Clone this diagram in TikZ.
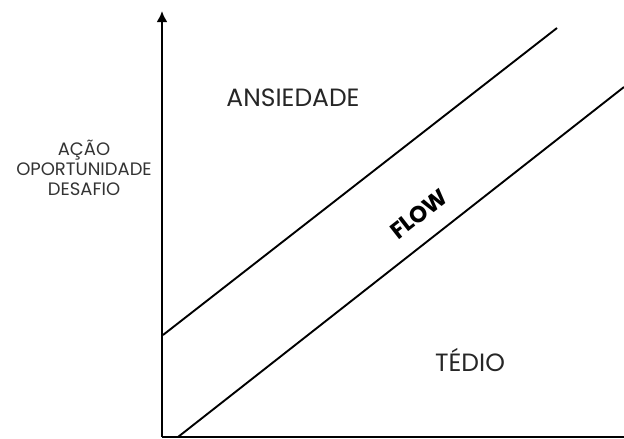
\documentclass[tikz,border=0pt]{standalone}
\usepackage{fontspec}
\setmainfont{Poppins}
\usetikzlibrary{calc, positioning, arrows.meta}

\begin{document}
\begin{tikzpicture}[>={Latex[length=11pt,width=11pt]}, x=1pt, y=-1pt]
    \useasboundingbox (0,0) rectangle (624,439);
    % Eixos
    \coordinate (O) at (162,437);
    \coordinate (topo) at (162,11);
    \coordinate (fim) at (624,437);
    \draw[line width=2.6pt, ->] (O) -- (topo);
    \draw[line width=2.6pt] (O) -- (fim);
    
    % Faixa do flow
    \coordinate (a1) at (163,335);
    \coordinate (a2) at (557,28);
    \coordinate (b1) at (178,437);
    \coordinate (b2) at (624,87);
    \draw[line width=1.9pt] (a1) -- (a2);
    \draw[line width=1.9pt] (b1) -- (b2);
    
    % Rotulos
    \node[text=black!85, font=\fontsize{25}{30}\selectfont] (ansiedade) at (293,98) {ANSIEDADE};
    \node[text=black!85, font=\fontsize{25}{30}\selectfont] (tedio) at (470,360) {TÉDIO};
    \node[text=black!80, align=center, font=\fontsize{18}{20}\selectfont] (eixo) at (84,168) {AÇÃO\\OPORTUNIDADE\\DESAFIO};
    \node[rotate=38, font=\bfseries\fontsize{23}{26}\selectfont] (flow) at (419,214) {FLOW};
\end{tikzpicture}
\end{document}
